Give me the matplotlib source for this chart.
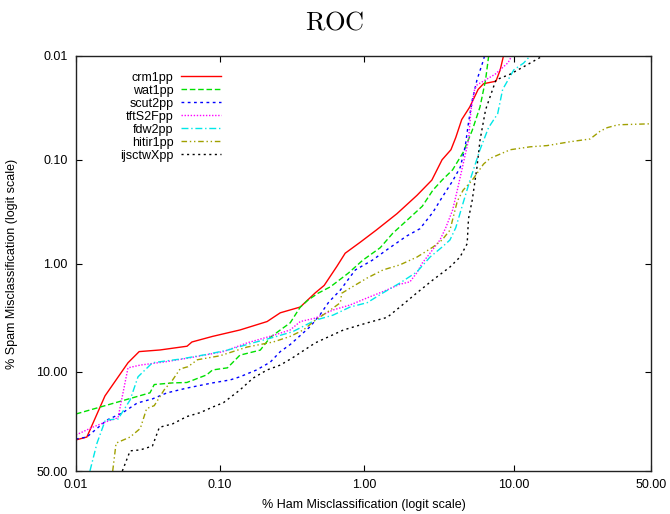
import numpy as np
import matplotlib
matplotlib.use('Agg')
import matplotlib.pyplot as plt
from matplotlib.ticker import NullLocator

plt.rcParams['font.family'] = ['Liberation Sans', 'DejaVu Sans']
plt.rcParams['mathtext.fontset'] = 'cm'

# ----- ROC points: (% ham misclassification, % spam misclassification) -----
names = ['crm1pp', 'wat1pp', 'scut2pp', 'tftS2Fpp', 'fdw2pp', 'hitir1pp', 'ijsctwXpp']

crm_ham = [0.01, 0.0119, 0.0159, 0.023, 0.0275, 0.0384, 0.0592, 0.064, 0.089, 0.138, 0.213, 0.263,
           0.362, 0.46, 0.53, 0.65, 0.74, 0.94, 1.21, 1.68, 2.3, 2.9, 3.4, 3.9, 4.2, 4.6, 5.2, 5.9,
           6.4, 7.7, 8.2, 8.6]
crm_spam = [33.4, 32.0, 15.9, 8.3, 6.6, 6.38, 5.9, 5.4, 4.8, 4.19, 3.5, 2.9,
            2.56, 1.88, 1.6, 1.05, 0.79, 0.62, 0.475, 0.33, 0.22, 0.157, 0.10, 0.08, 0.061, 0.041,
            0.031, 0.021, 0.0185, 0.0175, 0.0136, 0.01]

wat_ham = [0.01, 0.0327, 0.035, 0.047, 0.059, 0.081, 0.089, 0.113, 0.138, 0.191, 0.224, 0.263, 0.308,
           0.362, 0.41, 0.48, 0.585, 0.78, 0.98, 1.29, 1.57, 2.06, 2.5, 2.95, 3.4, 4.0, 4.7, 5.4,
           6.07, 6.6, 6.9]
wat_spam = [22.0, 15.0, 12.8, 12.4, 12.3, 10.6, 9.6, 9.2, 7.1, 6.4, 4.9, 4.19, 3.6,
            2.56, 2.2, 1.9, 1.65, 1.22, 0.92, 0.70, 0.51, 0.36, 0.28, 0.196, 0.157, 0.125, 0.085,
            0.052, 0.031, 0.017, 0.0102]

scut_ham = [0.01, 0.0119, 0.0164, 0.021, 0.0267, 0.034, 0.043, 0.059, 0.089, 0.118, 0.138, 0.18,
            0.224, 0.263, 0.308, 0.424, 0.498, 0.57, 0.686, 0.80, 0.87, 1.14, 1.5, 1.96, 2.41, 2.95,
            3.4, 4.0, 4.5, 4.85, 5.1, 5.4, 5.8, 6.3, 6.5]
scut_spam = [33.0, 32.0, 24.4, 21.6, 18.1, 16.8, 15.0, 13.7, 12.4, 11.7, 11.0, 9.6,
             8.2, 6.6, 5.7, 3.9, 3.0, 2.3, 1.77, 1.33, 1.14, 0.92, 0.70, 0.54, 0.46, 0.32,
             0.23, 0.16, 0.118, 0.075, 0.044, 0.0266, 0.017, 0.0117, 0.01]

tft_ham = [0.01, 0.013, 0.0164, 0.0196, 0.023, 0.028, 0.043, 0.062, 0.106, 0.155, 0.235, 0.308,
           0.362, 0.46, 0.61, 0.80, 1.05, 1.35, 1.76, 2.06, 2.3, 2.5, 2.82, 3.29, 3.6, 4.0, 4.3,
           4.7, 5.1, 5.3, 5.6, 5.8, 7.6, 9.2, 9.7]
tft_spam = [31.0, 27.5, 25.0, 23.5, 9.2, 8.7, 8.1, 7.5, 6.6, 5.5, 4.7, 4.19,
            3.5, 3.25, 2.73, 2.45, 2.1, 1.83, 1.56, 1.48, 1.21, 0.98, 0.79, 0.59, 0.45, 0.305, 0.196,
            0.11, 0.065, 0.033, 0.021, 0.019, 0.015, 0.0116, 0.01]

fdw_ham = [0.0125, 0.014, 0.016, 0.0196, 0.0238, 0.027, 0.034, 0.053, 0.081, 0.113, 0.17, 0.235,
           0.32, 0.46, 0.61, 0.80, 1.05, 1.35, 1.76, 2.3, 2.82, 3.4, 3.84, 4.2, 4.7, 5.2, 6.07,
           6.9, 7.9, 8.5, 10.0, 11.5, 12.6]
fdw_spam = [50.0, 35.0, 24.4, 24.0, 17.1, 11.0, 8.3, 7.7, 7.0, 6.4, 5.5, 4.9,
            4.35, 3.4, 3.05, 2.56, 2.33, 1.88, 1.52, 1.19, 0.86, 0.69, 0.59, 0.45, 0.26, 0.16, 0.08,
            0.049, 0.036, 0.021, 0.0136, 0.0117, 0.01]

hitir_ham = [0.018, 0.019, 0.0238, 0.028, 0.031, 0.035, 0.041, 0.047, 0.053, 0.060, 0.070, 0.100,
             0.155, 0.235, 0.308, 0.38, 0.46, 0.585, 0.686, 0.70, 0.80, 1.05, 1.35, 1.76, 2.3, 2.95,
             3.4, 3.84, 4.3, 4.7, 5.4, 6.4, 7.05, 9.5, 12.6, 15.9, 21.5, 27.4, 30.7, 33.2, 37.1, 50.0]
hitir_spam = [50.0, 35.0, 32.0, 28.0, 20.0, 19.0, 14.2, 11.7, 9.4, 9.0, 7.8, 7.2,
              6.0, 5.4, 4.8, 4.19, 3.4, 2.73, 2.33, 1.9, 1.7, 1.36, 1.14, 1.02, 0.86, 0.69,
              0.59, 0.475, 0.25, 0.196, 0.157, 0.11, 0.097, 0.08, 0.075, 0.073, 0.067, 0.063, 0.053,
              0.049, 0.046, 0.045]

ijs_ham = [0.021, 0.0238, 0.028, 0.034, 0.038, 0.047, 0.059, 0.073, 0.089, 0.106, 0.138, 0.17,
           0.213, 0.263, 0.32, 0.46, 0.72, 1.05, 1.44, 1.76, 2.3, 2.95, 3.84, 4.48, 5.0, 5.1, 5.4,
           5.8, 6.07, 6.6, 7.7, 9.46, 11.5, 15.0]
ijs_spam = [50.0, 39.0, 38.5, 36.5, 27.5, 26.0, 23.0, 21.5, 19.5, 18.0, 14.2, 11.3,
            9.6, 8.7, 7.5, 5.5, 4.19, 3.6, 3.2, 2.56, 1.88, 1.42, 1.07, 0.86, 0.64, 0.37, 0.244,
            0.118, 0.065, 0.033, 0.017, 0.015, 0.0127, 0.01]

ham = [crm_ham, wat_ham, scut_ham, tft_ham, fdw_ham, hitir_ham, ijs_ham]
spam = [crm_spam, wat_spam, scut_spam, tft_spam, fdw_spam, hitir_spam, ijs_spam]

ticks = [0.01, 0.1, 1.0, 10.0, 50.0]
tick_labels = ['0.01', '0.10', '1.00', '10.00', '50.00']

colors = ['#ff0000', '#00e000', '#0000ff', '#ff00ff', '#00e8e8', '#a0a000', '#000000']
styles = ['-', (0, (4, 2)), (0, (2, 2.5)), (0, (1, 1.2)), (0, (5, 2, 1, 2)),
          (0, (4, 2, 1, 2, 1, 2)), (0, (1.5, 2.5))]


def fwd(p):
    p = np.clip(np.asarray(p, dtype=float), 1e-7, 100 - 1e-7)
    return np.log(p / (100.0 - p))


def inv(v):
    return 100.0 / (1.0 + np.exp(-np.asarray(v, dtype=float)))


fig = plt.figure(figsize=(6.7, 5.14), dpi=100)
ax = fig.add_axes([76 / 670, 1 - 471 / 514, 575 / 670, 415 / 514])

for i in range(len(names)):
    ax.plot(ham[i], spam[i], color=colors[i], linestyle=styles[i], lw=1.0, label=names[i])

ax.set_xscale('function', functions=(fwd, inv))
ax.set_yscale('function', functions=(fwd, inv))
ax.set_xlim(0.01, 50)
ax.set_ylim(50, 0.01)
ax.set_xticks(ticks)
ax.set_xticklabels(tick_labels)
ax.set_yticks(ticks)
ax.set_yticklabels(tick_labels)
ax.xaxis.set_minor_locator(NullLocator())
ax.yaxis.set_minor_locator(NullLocator())
ax.tick_params(direction='in', length=4, width=0.8, top=True, right=True, labelsize=9, pad=6)
for s in ax.spines.values():
    s.set_linewidth(1.0)
    s.set_color('#222222')

ax.set_xlabel('% Ham Misclassification (logit scale)', fontsize=9)
ax.set_ylabel('% Spam Misclassification (logit scale)', fontsize=9)
ax.xaxis.set_label_coords(0.5, -0.068)
ax.yaxis.set_label_coords(-0.1, 0.5)

fig.text(0.5, 1 - 22 / 514, r'$\mathrm{ROC}$', ha='center', va='center', fontsize=19)

leg = ax.legend(loc='upper right', bbox_to_anchor=(0.252, 0.962), frameon=False, markerfirst=False,
                handlelength=3.2, handletextpad=0.6, labelspacing=0.08, borderpad=0, borderaxespad=0,
                fontsize=9)
for col in leg._legend_handle_box.get_children():
    col.align = 'right'

fig.savefig('out.png', dpi=100)
